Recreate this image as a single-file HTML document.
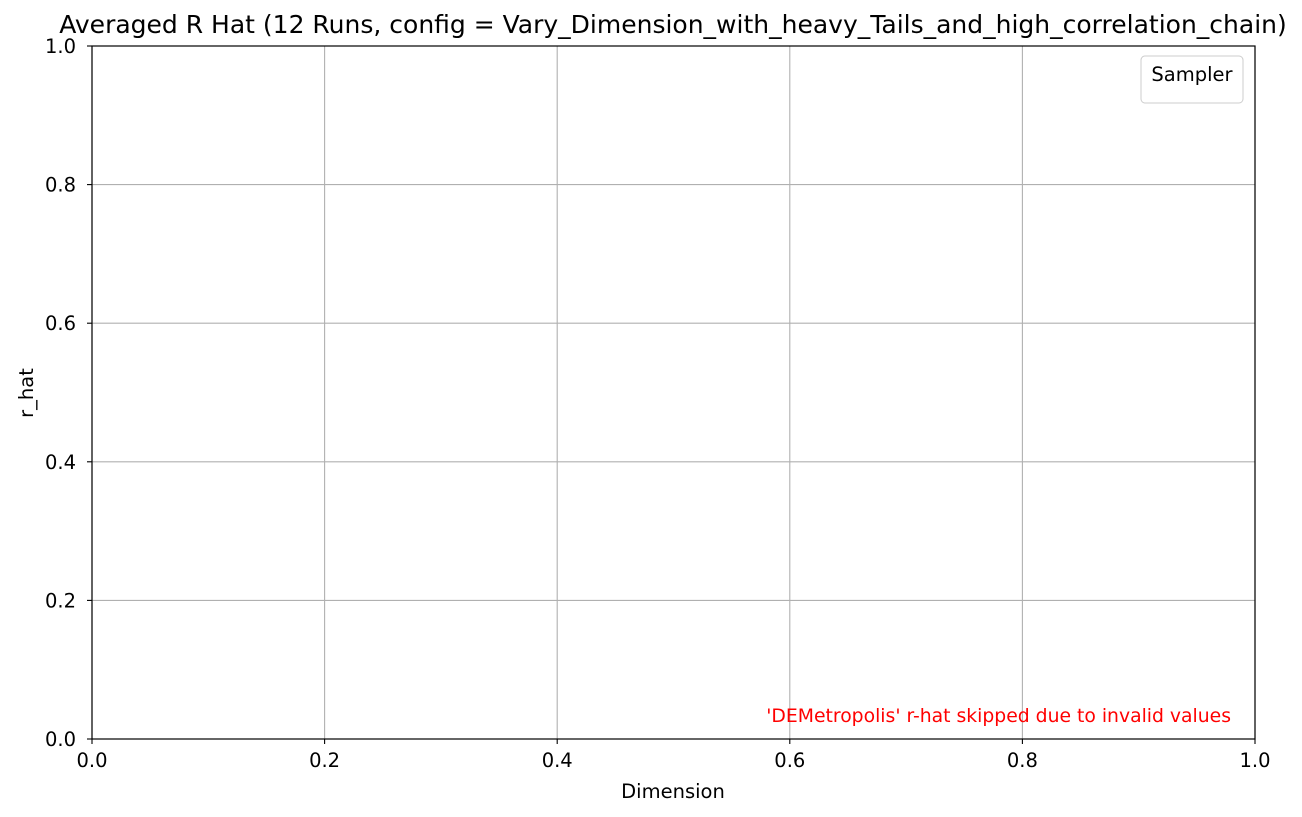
<!DOCTYPE html>
<html>
<head>
<meta charset="utf-8">
<style>
html,body{margin:0;padding:0;background:#fff;}
svg{display:block;font-family:"DejaVu Sans","Liberation Sans",sans-serif;}
</style>
</head>
<body>
<svg id="chart" width="1302" height="817" viewBox="0 0 1302 817">
  <rect x="0" y="0" width="1302" height="817" fill="#fff"/>
  <g id="grid"></g>
  <g id="ticks"></g>
  <rect x="92" y="46" width="1163" height="693" fill="none" stroke="#000" stroke-width="1.2"/>
  <text x="673" y="33" font-size="25" text-anchor="middle">Averaged R Hat (12 Runs, config = Vary_Dimension_with_heavy_Tails_and_high_correlation_chain)</text>
  <text x="673" y="798" font-size="19.5" text-anchor="middle">Dimension</text>
  <text transform="translate(33,393) rotate(-90)" font-size="19.5" text-anchor="middle">r_hat</text>
  <g>
    <rect x="1141" y="56" width="102" height="47" rx="4" fill="#fff" fill-opacity="0.8" stroke="#ccc" stroke-width="1"/>
    <text x="1192" y="81" font-size="19.5" text-anchor="middle">Sampler</text>
  </g>
  <text x="1231" y="722" font-size="18.8" fill="#ff0000" text-anchor="end">'DEMetropolis' r-hat skipped due to invalid values</text>
</svg>
<script>
const xTicks = [0.0, 0.2, 0.4, 0.6, 0.8, 1.0];
const yTicks = [0.0, 0.2, 0.4, 0.6, 0.8, 1.0];
const xDomain = [0, 1];
const yDomain = [0, 1];
const L = 92, R = 1255, T = 46, B = 739;
function xs(v){ return L + (v - xDomain[0]) / (xDomain[1] - xDomain[0]) * (R - L); }
function ys(v){ return B - (v - yDomain[0]) / (yDomain[1] - yDomain[0]) * (B - T); }
const NS = "http://www.w3.org/2000/svg";
const grid = document.getElementById('grid');
const ticks = document.getElementById('ticks');
function mk(tag, attrs, parent){
  const e = document.createElementNS(NS, tag);
  for (const k in attrs) e.setAttribute(k, attrs[k]);
  parent.appendChild(e);
  return e;
}
xTicks.forEach(v => {
  const x = xs(v);
  const g = mk('line', {x1:x, x2:x, y1:T, y2:B, stroke:'#b0b0b0', 'stroke-width':1.1}, grid);
  
  
  const t = mk('line', {x1:x, x2:x, y1:B, y2:B+5, stroke:'#000', 'stroke-width':1.1}, ticks);
  
  
  const l = mk('text', {x:x, y:B+28, 'font-size':19.5, 'text-anchor':'middle'}, ticks);
  l.textContent = v.toFixed(1);
  
  
});
yTicks.forEach(v => {
  const y = ys(v);
  const g = mk('line', {x1:L, x2:R, y1:y, y2:y, stroke:'#b0b0b0', 'stroke-width':1.1}, grid);
  
  
  const t = mk('line', {x1:L-5, x2:L, y1:y, y2:y, stroke:'#000', 'stroke-width':1.1}, ticks);
  
  
  const l = mk('text', {x:L-16, y:y+7, 'font-size':19.5, 'text-anchor':'end'}, ticks);
  l.textContent = v.toFixed(1);
  
  
});
</script>
</body>
</html>
